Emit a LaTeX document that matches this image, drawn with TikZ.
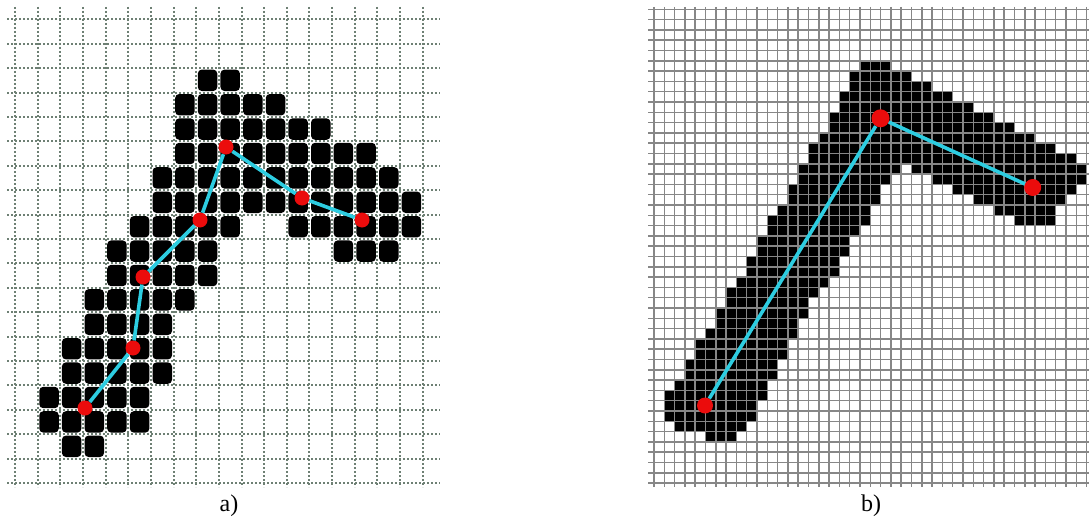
\documentclass[tikz,border=0pt]{standalone}
\usepackage{fontspec}
\setmainfont{Liberation Serif}
\definecolor{skelcyan}{RGB}{45,205,225}
\definecolor{jointred}{RGB}{235,12,12}
\definecolor{gridgreen}{RGB}{110,128,116}
\definecolor{gridgray}{RGB}{135,135,135}
\usetikzlibrary{positioning}

\begin{document}
\begin{tikzpicture}[x=1pt,y=-1pt,
  gridA/.style={gridgreen, line width=2pt, dash pattern=on 2.2pt off 1.8pt},
  gridB/.style={gridgray, line width=1.5pt},
  pixA/.style={fill=black, rounded corners=4pt},
  pixB/.style={fill=black},
  joint/.style={circle, fill=jointred, inner sep=0pt, minimum size=#1},
  joint/.default=15pt,
  skel/.style={skelcyan, line width=3.6pt},
  caption/.style={font=\fontsize{24}{28}\selectfont}]
  \useasboundingbox[fill=white] (0,0) rectangle (1089,519);

  % Panel a: coarse grid
  \foreach \i in {0,...,18}
    \draw[gridA] ({15+22.65*\i},7) -- ({15+22.65*\i},487);
  \foreach \j in {0,...,19}
    \draw[gridA] (7,{19.3+24.4*\j}) -- (440,{19.3+24.4*\j});

  % Panel a: object pixels (row/first/last column)
  \foreach \r/\a/\b in {2/8/9, 3/7/11, 4/7/13, 5/7/15, 6/6/16, 7/6/17,
      8/5/9, 8/12/17, 9/4/8, 9/14/16, 10/4/8, 11/3/7, 12/3/6,
      13/2/6, 14/2/6, 15/1/5, 16/1/5, 17/2/3}
    \foreach \c in {\a,...,\b}
      \fill[pixA] ({15+22.65*\c+1.6},{19.3+24.4*\r+1.5}) rectangle ++(19.5,21.4);

  % Panel a: skeleton joints
  \node[joint] (a1) at (85,408) {};
  \node[joint] (a2) at (133,348) {};
  \node[joint] (a3) at (143,277) {};
  \node[joint] (a4) at (200,220) {};
  \node[joint] (a5) at (226,147) {};
  \node[joint] (a6) at (302,198) {};
  \node[joint] (a7) at (362,220) {};
  \draw[skel] (a1) -- (a2) -- (a3) -- (a4) -- (a5) -- (a6) -- (a7);

  % Panel b: object pixels (row/first/last column)
  \foreach \r/\a/\b in {5/20/22, 6/19/24, 7/19/26, 8/18/28, 9/18/30,
      10/17/32, 11/17/34, 12/16/36, 13/15/38, 14/15/40,
      15/14/23, 15/25/41, 16/14/22, 16/27/41, 17/13/21, 17/29/40,
      18/13/21, 18/31/39, 19/12/20, 19/33/38, 20/11/20, 20/35/38,
      21/11/19, 22/10/18, 23/10/18, 24/9/17, 25/9/17, 26/8/16,
      27/7/15, 28/7/14, 29/6/14, 30/6/13, 31/5/13, 32/4/12, 33/4/12,
      34/3/11, 35/3/11, 36/2/10, 37/1/10, 38/1/9, 39/1/9, 40/2/8, 41/5/7}
    \foreach \c in {\a,...,\b}
      \fill[pixB] ({654+10.3*\c},{9.3+10.3*\r}) rectangle ++(10.3,10.3);

  % Panel b: fine grid
  \foreach \i in {0,...,42}
    \draw[gridB] ({654+10.3*\i},7) -- ({654+10.3*\i},487);
  \foreach \j in {0,...,46}
    \draw[gridB] (648,{9.3+10.3*\j}) -- (1089,{9.3+10.3*\j});

  % Panel b: skeleton joints
  \node[joint=16pt] (b1) at (705,405.5) {};
  \node[joint=18pt] (b2) at (880.5,118.3) {};
  \node[joint=17pt] (b3) at (1032.7,187.5) {};
  \draw[skel] (b1) -- (b2) -- (b3);

  % Captions
  \node[caption] (capa) at (229,506) {a)};
  \node[caption] (capb) at (871,506) {b)};
\end{tikzpicture}
\end{document}
